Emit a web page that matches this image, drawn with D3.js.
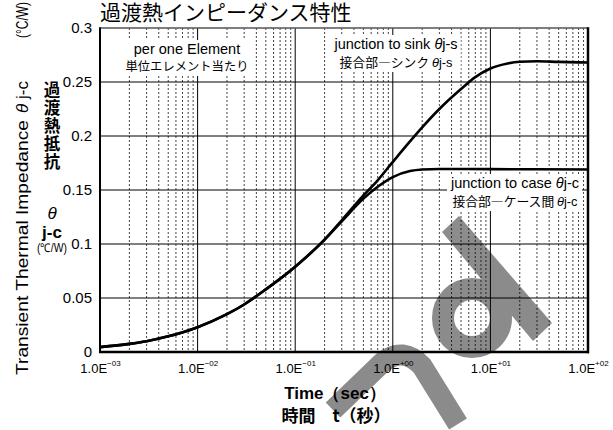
<!DOCTYPE html>
<html>
<head>
<meta charset="utf-8">
<script src="https://cdn.jsdelivr.net/npm/d3@7"></script>
<style>
  html, body { margin: 0; padding: 0; background: #fff; }
  svg { display: block; }
  .lat { font-family: "Liberation Sans", Arial, sans-serif; }
  .cjk { font-family: "Noto Sans CJK JP", "Noto Sans CJK SC", sans-serif; }
</style>
</head>
<body>
<svg id="chart" width="613" height="430"></svg>
<script>
// Time axis (seconds) and decade tick exponents
const decadeTicks = [1e-3, 1e-2, 1e-1, 1e0, 1e1, 1e2];
const decadeExps = ["\u221203", "\u221202", "\u221201", "+00", "+01", "+02"];
const impedanceTicks = [0, 0.05, 0.1, 0.15, 0.2, 0.25, 0.3];
const impedanceLabels = ["0", "0.05", "0.1", "0.15", "0.2", "0.25", "0.3"];

// junction to case θj-c
const timeJC = [0.001, 0.002, 0.003, 0.005, 0.01, 0.02, 0.03, 0.05, 0.1, 0.2, 0.3, 0.5, 0.7, 1, 1.5, 2, 3, 5, 10, 30, 100];
const zthJC  = [0.0045, 0.0075, 0.0100, 0.0145, 0.023, 0.035, 0.044, 0.058, 0.079, 0.104, 0.121, 0.142, 0.153, 0.162, 0.1675, 0.169, 0.1695, 0.1695, 0.1693, 0.1692, 0.169];

// junction to sink θj-s
const timeJS = [0.001, 0.002, 0.003, 0.005, 0.01, 0.02, 0.03, 0.05, 0.1, 0.2, 0.3, 0.5, 0.7, 1, 1.5, 2, 3, 5, 7, 10, 15, 20, 30, 50, 100];
const zthJS  = [0.0045, 0.0075, 0.0100, 0.0145, 0.023, 0.035, 0.044, 0.058, 0.079, 0.104, 0.122, 0.145, 0.159, 0.176, 0.195, 0.208, 0.225, 0.2435, 0.2545, 0.2625, 0.2672, 0.2688, 0.2692, 0.2686, 0.268];

const svg = d3.select("#chart");
const M = { left: 100, right: 588, top: 28, bottom: 352 };

const x = d3.scaleLog().domain([1e-3, 1e2]).range([M.left, M.right]);
const y = d3.scaleLinear().domain([0, 0.3]).range([M.bottom, M.top]);

// --- grid ---
const grid = svg.append("g");
const minor = [];
decadeTicks.slice(0, -1).forEach(d => { for (let k = 2; k <= 9; k++) minor.push(d * k); });
grid.selectAll("line.minor").data(minor).join("line")
  .attr("x1", d => x(d)).attr("x2", d => x(d))
  .attr("y1", M.top).attr("y2", M.bottom)
  .attr("stroke", "#444").attr("stroke-width", 1)
  .attr("stroke-dasharray", "2,2");
grid.selectAll("line.major").data(decadeTicks.slice(1, -1)).join("line")
  .attr("x1", d => x(d)).attr("x2", d => x(d))
  .attr("y1", M.top).attr("y2", M.bottom)
  .attr("stroke", "#000").attr("stroke-width", 1);
grid.selectAll("line.h").data(impedanceTicks.slice(1, -1)).join("line")
  .attr("x1", M.left).attr("x2", M.right)
  .attr("y1", d => y(d)).attr("y2", d => y(d))
  .attr("stroke", "#000").attr("stroke-width", 1);

// --- annotation text blocks with white backing ---
function note(cx, lines) {
  const g = svg.append("g");
  const bg = g.append("rect").attr("fill", "#fff");
  lines.forEach(l => {
    const t = g.append("text").attr("x", cx).attr("y", l.y)
      .attr("text-anchor", "middle").attr("font-size", l.size)
      .attr("class", l.cls).attr("fill", "#000");
    l.parts.forEach(p => {
      const ts = t.append("tspan").text(p.t);
      if (p.it) ts.attr("font-style", "italic").attr("class", "lat");
      if (p.lat) ts.attr("class", "lat");
    });
  });
  const b = g.node().getBBox();
  bg.attr("x", b.x - 3).attr("y", b.y - 1).attr("width", b.width + 6).attr("height", b.height + 2);
}
note(187, [
  { y: 54, size: 14.5, cls: "lat", parts: [{ t: "per one Element" }] },
  { y: 71, size: 12.3, cls: "cjk", parts: [{ t: "単位エレメント当たり" }] }
]);
note(396, [
  { y: 49, size: 14.5, cls: "lat", parts: [{ t: "junction to sink " }, { t: "θ", it: true }, { t: "j-s" }] },
  { y: 67, size: 12.8, cls: "cjk", parts: [{ t: "接合部―シンク " }, { t: "θ", it: true }, { t: "j-s", lat: true }] }
]);
note(515, [
  { y: 188, size: 14.5, cls: "lat", parts: [{ t: "junction to case " }, { t: "θ", it: true }, { t: "j-c" }] },
  { y: 206, size: 12.8, cls: "cjk", parts: [{ t: "接合部―ケース間 " }, { t: "θ", it: true }, { t: "j-c", lat: true }] }
]);

// --- curves ---
const line = d3.line().x(d => x(d[0])).y(d => y(d[1])).curve(d3.curveMonotoneX);
svg.append("path").datum(d3.zip(timeJS, zthJS)).attr("d", line)
  .attr("fill", "none").attr("stroke", "#000").attr("stroke-width", 2.6);
svg.append("path").datum(d3.zip(timeJC, zthJC)).attr("d", line)
  .attr("fill", "none").attr("stroke", "#000").attr("stroke-width", 2.6);

// --- frame ---
svg.append("line").attr("x1", M.left).attr("x2", M.right).attr("y1", M.top).attr("y2", M.top)
  .attr("stroke", "#555").attr("stroke-width", 1.5);
svg.append("line").attr("x1", M.left).attr("x2", M.left).attr("y1", M.top - 0.75).attr("y2", M.bottom + 1)
  .attr("stroke", "#000").attr("stroke-width", 2);
svg.append("line").attr("x1", M.right).attr("x2", M.right).attr("y1", M.top - 0.75).attr("y2", M.bottom + 1.2)
  .attr("stroke", "#000").attr("stroke-width", 2.5);
svg.append("line").attr("x1", M.left - 1).attr("x2", M.right + 1).attr("y1", M.bottom).attr("y2", M.bottom)
  .attr("stroke", "#000").attr("stroke-width", 2.5);

// --- axes ---
const yAxis = svg.append("g").attr("transform", `translate(${M.left},0)`)
  .call(d3.axisLeft(y).tickValues(impedanceTicks).tickSize(0).tickPadding(8)
    .tickFormat((d, i) => impedanceLabels[i]));
yAxis.select(".domain").remove();
yAxis.selectAll("text").attr("class", "lat").attr("font-size", 15).attr("fill", "#000")
  .attr("font-family", null);

const xAxis = svg.append("g").attr("transform", `translate(0,${M.bottom})`)
  .call(d3.axisBottom(x).tickValues(decadeTicks).tickSize(0).tickPadding(12).tickFormat(() => ""));
xAxis.select(".domain").remove();
xAxis.selectAll("text").each(function (d, i) {
  const t = d3.select(this).attr("class", "lat").attr("font-family", null)
    .attr("font-size", 13).attr("fill", "#000").attr("dy", "0.71em");
  t.append("tspan").text("1.0E");
  t.append("tspan").text(decadeExps[i]).attr("font-size", 8).attr("dy", "-0.9em");
});

// --- titles ---
svg.append("text").attr("class", "cjk").attr("x", 100).attr("y", 20)
  .attr("font-size", 21).attr("fill", "#000").text("過渡熱インピーダンス特性");

svg.append("text").attr("class", "lat").attr("x", 335).attr("y", 398.5)
  .attr("text-anchor", "middle").attr("font-size", 17).attr("font-weight", "bold")
  .text("Time（sec）");
svg.append("text").attr("class", "cjk").attr("x", 336).attr("y", 422)
  .attr("text-anchor", "middle").attr("font-size", 17).attr("font-weight", "bold")
  .text("時間　t（秒）");

// rotated left label
const rl = svg.append("g").attr("transform", "translate(28,0) rotate(-90)");
rl.append("text").attr("class", "lat").attr("x", -375).attr("y", 0)
  .attr("font-size", 17).attr("textLength", 255).attr("lengthAdjust", "spacingAndGlyphs")
  .text("Transient Thermal Impedance");
const rl2 = rl.append("text").attr("class", "lat").attr("x", -113).attr("y", 0).attr("font-size", 17);
rl2.append("tspan").attr("font-style", "italic").text("θ");
rl2.append("tspan").text(" j-c");
rl.append("text").attr("class", "lat").attr("x", -38).attr("y", 0).attr("font-size", 16)
  .attr("textLength", 36).attr("lengthAdjust", "spacingAndGlyphs")
  .text("(°C/W)");

// stacked inner label, set vertically
svg.append("text").attr("class", "cjk").attr("x", 52).attr("y", 81)
  .attr("writing-mode", "vertical-rl").attr("font-size", 16.5)
  .attr("letter-spacing", 1.5).attr("font-weight", "bold").text("過渡熱抵抗");
svg.append("text").attr("class", "lat").attr("x", 52).attr("y", 219)
  .attr("text-anchor", "middle").attr("font-size", 17).attr("font-style", "italic").text("θ");
svg.append("text").attr("class", "lat").attr("x", 52).attr("y", 238)
  .attr("text-anchor", "middle").attr("font-size", 17).attr("font-weight", "bold").text("j-c");
svg.append("text").attr("class", "lat").attr("x", 37).attr("y", 252)
  .attr("font-size", 12).attr("textLength", 30).attr("lengthAdjust", "spacingAndGlyphs").text("(℃/W)");

// --- translucent logo mark ---
const mark = svg.append("g").attr("opacity", 0.45);
mark.append("path")
  .attr("d", "M333,410 L383,362 Q403,346 422,366 L458,424")
  .attr("fill", "none").attr("stroke", "#000").attr("stroke-width", 21);
mark.append("circle").attr("cx", 472).attr("cy", 318).attr("r", 29)
  .attr("fill", "none").attr("stroke", "#000").attr("stroke-width", 22);
mark.append("path")
  .attr("d", "M442,232 L459,216 L552,323 L533,341 Z")
  .attr("fill", "#000");
</script>
</body>
</html>
